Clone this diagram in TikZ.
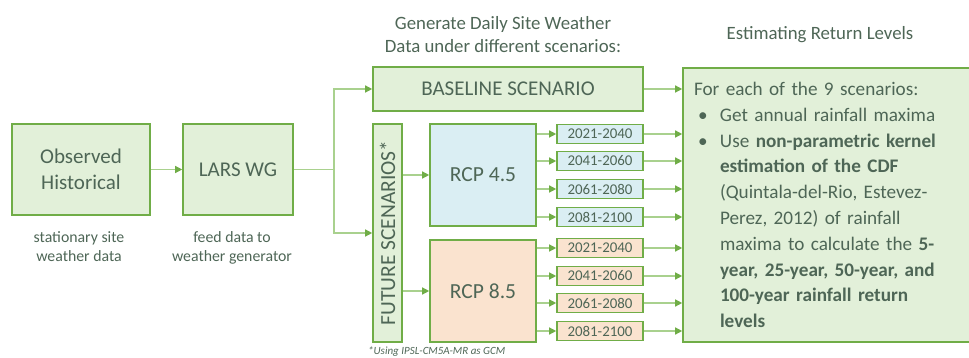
\documentclass[tikz,border=0pt]{standalone}
\usepackage{fontspec}
\setmainfont{Carlito}
\usepackage{xcolor}
\usepackage{tikz}
\usetikzlibrary{arrows.meta,positioning,calc}
\definecolor{gsoft}{HTML}{E2F0D9}
\definecolor{gline}{HTML}{70AD47}
\definecolor{glight}{HTML}{A9D18E}
\definecolor{bsoft}{HTML}{DAEEF3}
\definecolor{osoft}{HTML}{FAE3CF}
\definecolor{ink}{HTML}{4E6656}
\newcommand{\bitem}{\hspace*{4pt}\makebox[22pt][l]{\textbullet}}
\newcommand{\bcont}{\hspace*{26pt}}
\tikzset{
  gbox/.style={draw=gline,fill=gsoft,line width=1.6pt,text=ink,align=center,inner sep=0pt},
  bbox/.style={gbox,fill=bsoft},
  obox/.style={gbox,fill=osoft},
  gnote/.style={text=ink,align=center,inner sep=0pt},
  garr/.style={-{Triangle[length=7pt,width=7pt,color=gline]},line width=1.3pt,draw=glight},
  gline/.style={line width=1.3pt,draw=glight}
}
\begin{document}
\begin{tikzpicture}[x=1pt,y=-1pt]
  \useasboundingbox (0,0) rectangle (969,358);
  \node[gbox,minimum width=138pt,minimum height=91pt,font=\fontsize{21}{26}\selectfont] (obs) at (81,169.5) {Observed\\Historical};
  \node[gbox,minimum width=110pt,minimum height=91pt,font=\fontsize{21}{26}\selectfont] (lars) at (238,169.5) {LARS WG};
  \node[gnote,font=\fontsize{15.8}{19}\selectfont] (obsnote) at (79,247) {stationary site\\weather data};
  \node[gnote,font=\fontsize{15.8}{19}\selectfont] (larsnote) at (232,248) {feed data to\\weather generator};
  \node[gnote,font=\fontsize{18.8}{23}\selectfont] (gentitle) at (503,35) {Generate Daily Site Weather\\Data under different scenarios:};
  \node[gnote,font=\fontsize{18.8}{23}\selectfont] (esttitle) at (820,35) {Estimating Return Levels};
  \node[gbox,minimum width=270pt,minimum height=44pt,font=\fontsize{21}{24}\selectfont] (base) at (508,89) {BASELINE SCENARIO};
  \node[gbox,minimum width=29pt,minimum height=218pt,font=\fontsize{21.5}{24}\selectfont] (fut) at (387.5,233) {\rotatebox{90}{FUTURE SCENARIOS*}};
  \node[bbox,minimum width=106pt,minimum height=102pt,font=\fontsize{21.5}{26}\selectfont] (rcp45) at (483,175) {RCP 4.5};
  \node[obox,minimum width=106pt,minimum height=102pt,font=\fontsize{21.5}{26}\selectfont] (rcp85) at (483,291) {RCP 8.5};
  \node[gbox,minimum width=307pt,minimum height=274pt,text width=285pt,inner sep=11pt,align=left,
        font=\fontsize{19.2}{25.8}\selectfont] (res) at (836.5,205)
    {For each of the 9 scenarios:\\
     \bitem Get annual rainfall maxima\\
     \bitem Use \textbf{non-parametric kernel}\\
     \bcont\textbf{estimation of the CDF}\\
     \bcont(Quintala-del-Rio, Estevez-\\
     \bcont Perez, 2012) of rainfall\\
     \bcont maxima to calculate the \textbf{5-}\\
     \bcont\textbf{year, 25-year, 50-year, and}\\
     \bcont\textbf{100-year rainfall return}\\
     \bcont\textbf{levels}};
  \node[text=ink,anchor=west,inner sep=0pt,font=\fontsize{11}{13}\selectfont\itshape] (gcm) at (368,352) {*Using IPSL-CM5A-MR as GCM};
  \foreach \i/\yy/\lab/\sty in {1/134/2021-2040/bbox,2/161/2041-2060/bbox,3/189/2061-2080/bbox,4/217/2081-2100/bbox,
                                5/248/2021-2040/obox,6/276/2041-2060/obox,7/303/2061-2080/obox,8/331/2081-2100/obox}
    \node[\sty,minimum width=86pt,minimum height=19pt,font=\fontsize{14.9}{16}\selectfont] (yr\i) at (600,\yy) {\lab};
  \coordinate (split) at (334,169.5);
  \draw[garr] (obs) -- (lars);
  \draw[gline] (lars.east) -- (split);
  \draw[garr] (split) |- (base.west);
  \draw[garr] (split) |- (fut.west);
  \draw[garr] (fut.east |- rcp45) -- (rcp45.west);
  \draw[garr] (fut.east |- rcp85) -- (rcp85.west);
  \draw[garr] (base.east) -- (base.east -| res.west);
  \foreach \i in {1,...,4} \draw[garr] (rcp45.east |- yr\i) -- (yr\i.west);
  \foreach \i in {5,...,8} \draw[garr] (rcp85.east |- yr\i) -- (yr\i.west);
  \foreach \i in {1,...,8} \draw[garr] (yr\i.east) -- (yr\i.east -| res.west);
\end{tikzpicture}
\end{document}
